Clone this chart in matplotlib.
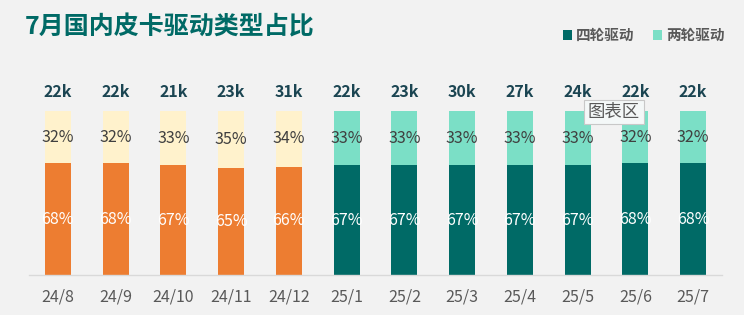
import matplotlib
matplotlib.use("Agg")
import matplotlib.pyplot as plt
from matplotlib.patches import Rectangle

plt.rcParams['font.family'] = ['Noto Sans CJK SC', 'DejaVu Sans']

months = ["24/8", "24/9", "24/10", "24/11", "24/12", "25/1", "25/2", "25/3", "25/4", "25/5", "25/6", "25/7"]
totals_k = [22, 22, 21, 23, 31, 22, 23, 30, 27, 24, 22, 22]
share_4wd = [68, 68, 67, 65, 66, 67, 67, 67, 67, 67, 68, 68]
share_2wd = [32, 32, 33, 35, 34, 33, 33, 33, 33, 33, 32, 32]
highlight_n = 5  # first five months highlighted in orange

BG = "#F2F2F2"
DARK = "#006A66"
LIGHT = "#7BDFC6"
ORANGE = "#ED7D31"
PALE = "#FFF2CC"

fig = plt.figure(figsize=(7.44, 3.15), dpi=100, facecolor=BG)
ax = fig.add_axes([29/744, 40/315, 693/744, 164/315])
ax.set_facecolor(BG)

x = list(range(len(months)))
c_bot = [ORANGE if i < highlight_n else DARK for i in x]
c_top = [PALE if i < highlight_n else LIGHT for i in x]
b4 = [v/100 for v in share_4wd]
b2 = [v/100 for v in share_2wd]
ax.bar(x, b4, width=0.45, color=c_bot, zorder=2)
ax.bar(x, b2, width=0.45, bottom=b4, color=c_top, zorder=2)

for i in x:
    ax.text(i, b4[i]/2, f"{share_4wd[i]}%", ha="center", va="center",
            color="white", fontsize=11.5, zorder=3)
    ax.text(i, b4[i] + b2[i]/2, f"{share_2wd[i]}%", ha="center", va="center",
            color="#404040", fontsize=11.5, zorder=3)
    ax.text(i, 1.0 + 0.115, f"{totals_k[i]}k", ha="center", va="center",
            color="#1B4552", fontsize=11.5, fontweight="bold", zorder=3, clip_on=False)

ax.set_xlim(-0.5, len(months) - 0.5)
ax.set_ylim(0, 1.0)
ax.set_yticks([])
ax.set_xticks(x)
ax.set_xticklabels(months, color="#595959", fontsize=11.5)
ax.tick_params(axis="x", length=0, pad=10)
for s in ["top", "right", "left"]:
    ax.spines[s].set_visible(False)
ax.spines["bottom"].set_color("#D9D9D9")
ax.spines["bottom"].set_linewidth(1)

fig.text(25/744, 1 - 27/315, "7月国内皮卡驱动类型占比", ha="left", va="center",
         fontsize=18, fontweight="bold", color="#006A66")

# legend
ly = 1 - 35/315
for lx, col, lab in [(567, DARK, "四轮驱动"), (657, LIGHT, "两轮驱动")]:
    fig.patches.append(Rectangle(((lx - 4)/744, ly - 4.5/315), 9/744, 9/315,
                                 transform=fig.transFigure, facecolor=col, edgecolor="none"))
    fig.text((lx + 9)/744, ly, lab, ha="left", va="center", fontsize=10.5,
             fontweight="bold", color="#595959")

# tooltip
fig.text(614/744, 1 - 112/315, "图表区", ha="center", va="center", fontsize=12.5,
         color="#595959",
         bbox=dict(boxstyle="square,pad=0.2", facecolor="#F4F8F8", edgecolor="#C8C8C8", linewidth=0.8),
         zorder=10)

fig.savefig("out.png", dpi=100, facecolor=BG)
